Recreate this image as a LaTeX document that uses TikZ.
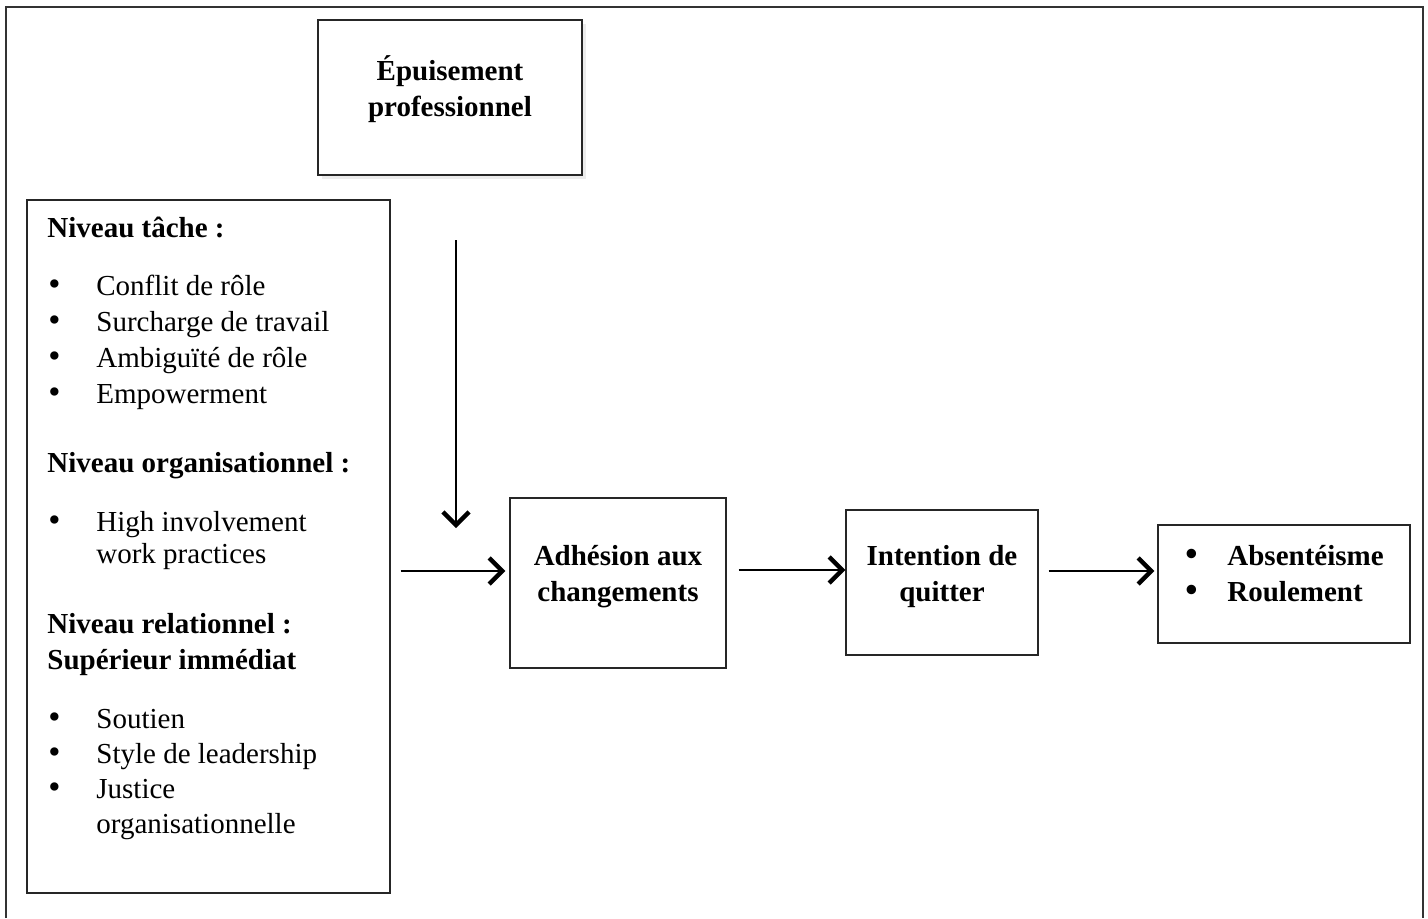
\documentclass[tikz,border=0pt]{standalone}
\usepackage{fontspec}
\setmainfont{Liberation Serif}
\usepackage{tikz}
\usetikzlibrary{positioning, arrows.meta, shadows}
\newcommand{\textsz}{\fontsize{14.5}{18}\selectfont}
\tikzstyle{block} = [rectangle, draw=black!85, line width=0.7pt, fill=white, inner sep=0pt]
\tikzstyle{arrow} = [line width=1pt, -{Straight Barb[length=6.5pt,width=13pt,line width=2.2pt]}]
\tikzstyle{title} = [font=\textsz\bfseries, align=center, inner sep=0pt]
\tikzstyle{line} = [anchor=base west, inner sep=0pt, font=\textsz]
\tikzstyle{bline} = [line, font=\textsz\bfseries]
\newcommand{\puce}{\makebox[24pt][l]{\scalebox{1.2}{•}}}

\begin{document}
\begin{tikzpicture}[x=0.5pt, y=-0.5pt]

    \useasboundingbox (0,0) rectangle (1428,918);
    \draw[line width=0.9pt, draw=black!80] (6,918) -- (6,7) -- (1423,7) -- (1423,918);

    \node[block, minimum width=132pt, minimum height=77.5pt,
          drop shadow={shadow xshift=2pt, shadow yshift=-2pt, fill=black!15}] (epuis) at (450,97.5) {};
    \node[title] (epuislbl) at (450,89) {Épuisement\\professionnel};

    \node[block, minimum width=181.5pt, minimum height=346.5pt] (niveaux) at (208.5,546.5) {};
    \node[bline] (tache) at (47,237) {Niveau tâche :};
    \node[line] (conflit) at (48,295) {\puce Conflit de rôle};
    \node[line] (surcharge) at (48,331) {\puce Surcharge de travail};
    \node[line] (ambig) at (48,367) {\puce Ambiguïté de rôle};
    \node[line] (empow) at (48,403) {\puce Empowerment};
    \node[bline] (organ) at (47,472) {Niveau organisationnel :};
    \node[line] (high) at (48,531) {\puce High involvement};
    \node[line] (work) at (96,563) {work practices};
    \node[bline] (relat) at (47,633) {Niveau relationnel :};
    \node[bline] (superieur) at (47,669) {Supérieur immédiat};
    \node[line] (soutien) at (48,728) {\puce Soutien};
    \node[line] (style) at (48,763) {\puce Style de leadership};
    \node[line] (justice) at (48,798) {\puce Justice};
    \node[line] (justice2) at (96,833) {organisationnelle};

    \node[block, minimum width=108pt, minimum height=85pt] (adh) at (618,583) {};
    \node[title] (adhlbl) at (618,577) {Adhésion aux\\changements};

    \node[block, minimum width=96pt, minimum height=72.5pt] (int) at (942,582.5) {};
    \node[title] (intlbl) at (942,577) {Intention de\\quitter};

    \node[block, minimum width=126pt, minimum height=59pt] (out) at (1284,584) {};
    \node[bline] (absent) at (1185,565) {\makebox[21pt][l]{\scalebox{1.2}{•}}Absentéisme};
    \node[bline] (roul) at (1185,601) {\makebox[21pt][l]{\scalebox{1.2}{•}}Roulement};

    \coordinate (adhin) at ([yshift=6pt]adh.west);
    \coordinate (intin) at ([yshift=6.25pt]int.west);
    \coordinate (outin) at ([yshift=6.5pt]out.west);
    \coordinate (modstart) at (456,240);
    \coordinate (modend) at (456,528);

    \draw[arrow] (modstart) to (modend);
    \draw[arrow, shorten <=5pt, shorten >=2pt] (niveaux.east |- adhin) to (adhin);
    \draw[arrow, shorten <=6pt] (adh.east |- intin) to (intin);
    \draw[arrow, shorten <=5pt, shorten >=1.5pt] (int.east |- outin) to (outin);

\end{tikzpicture}
\end{document}
